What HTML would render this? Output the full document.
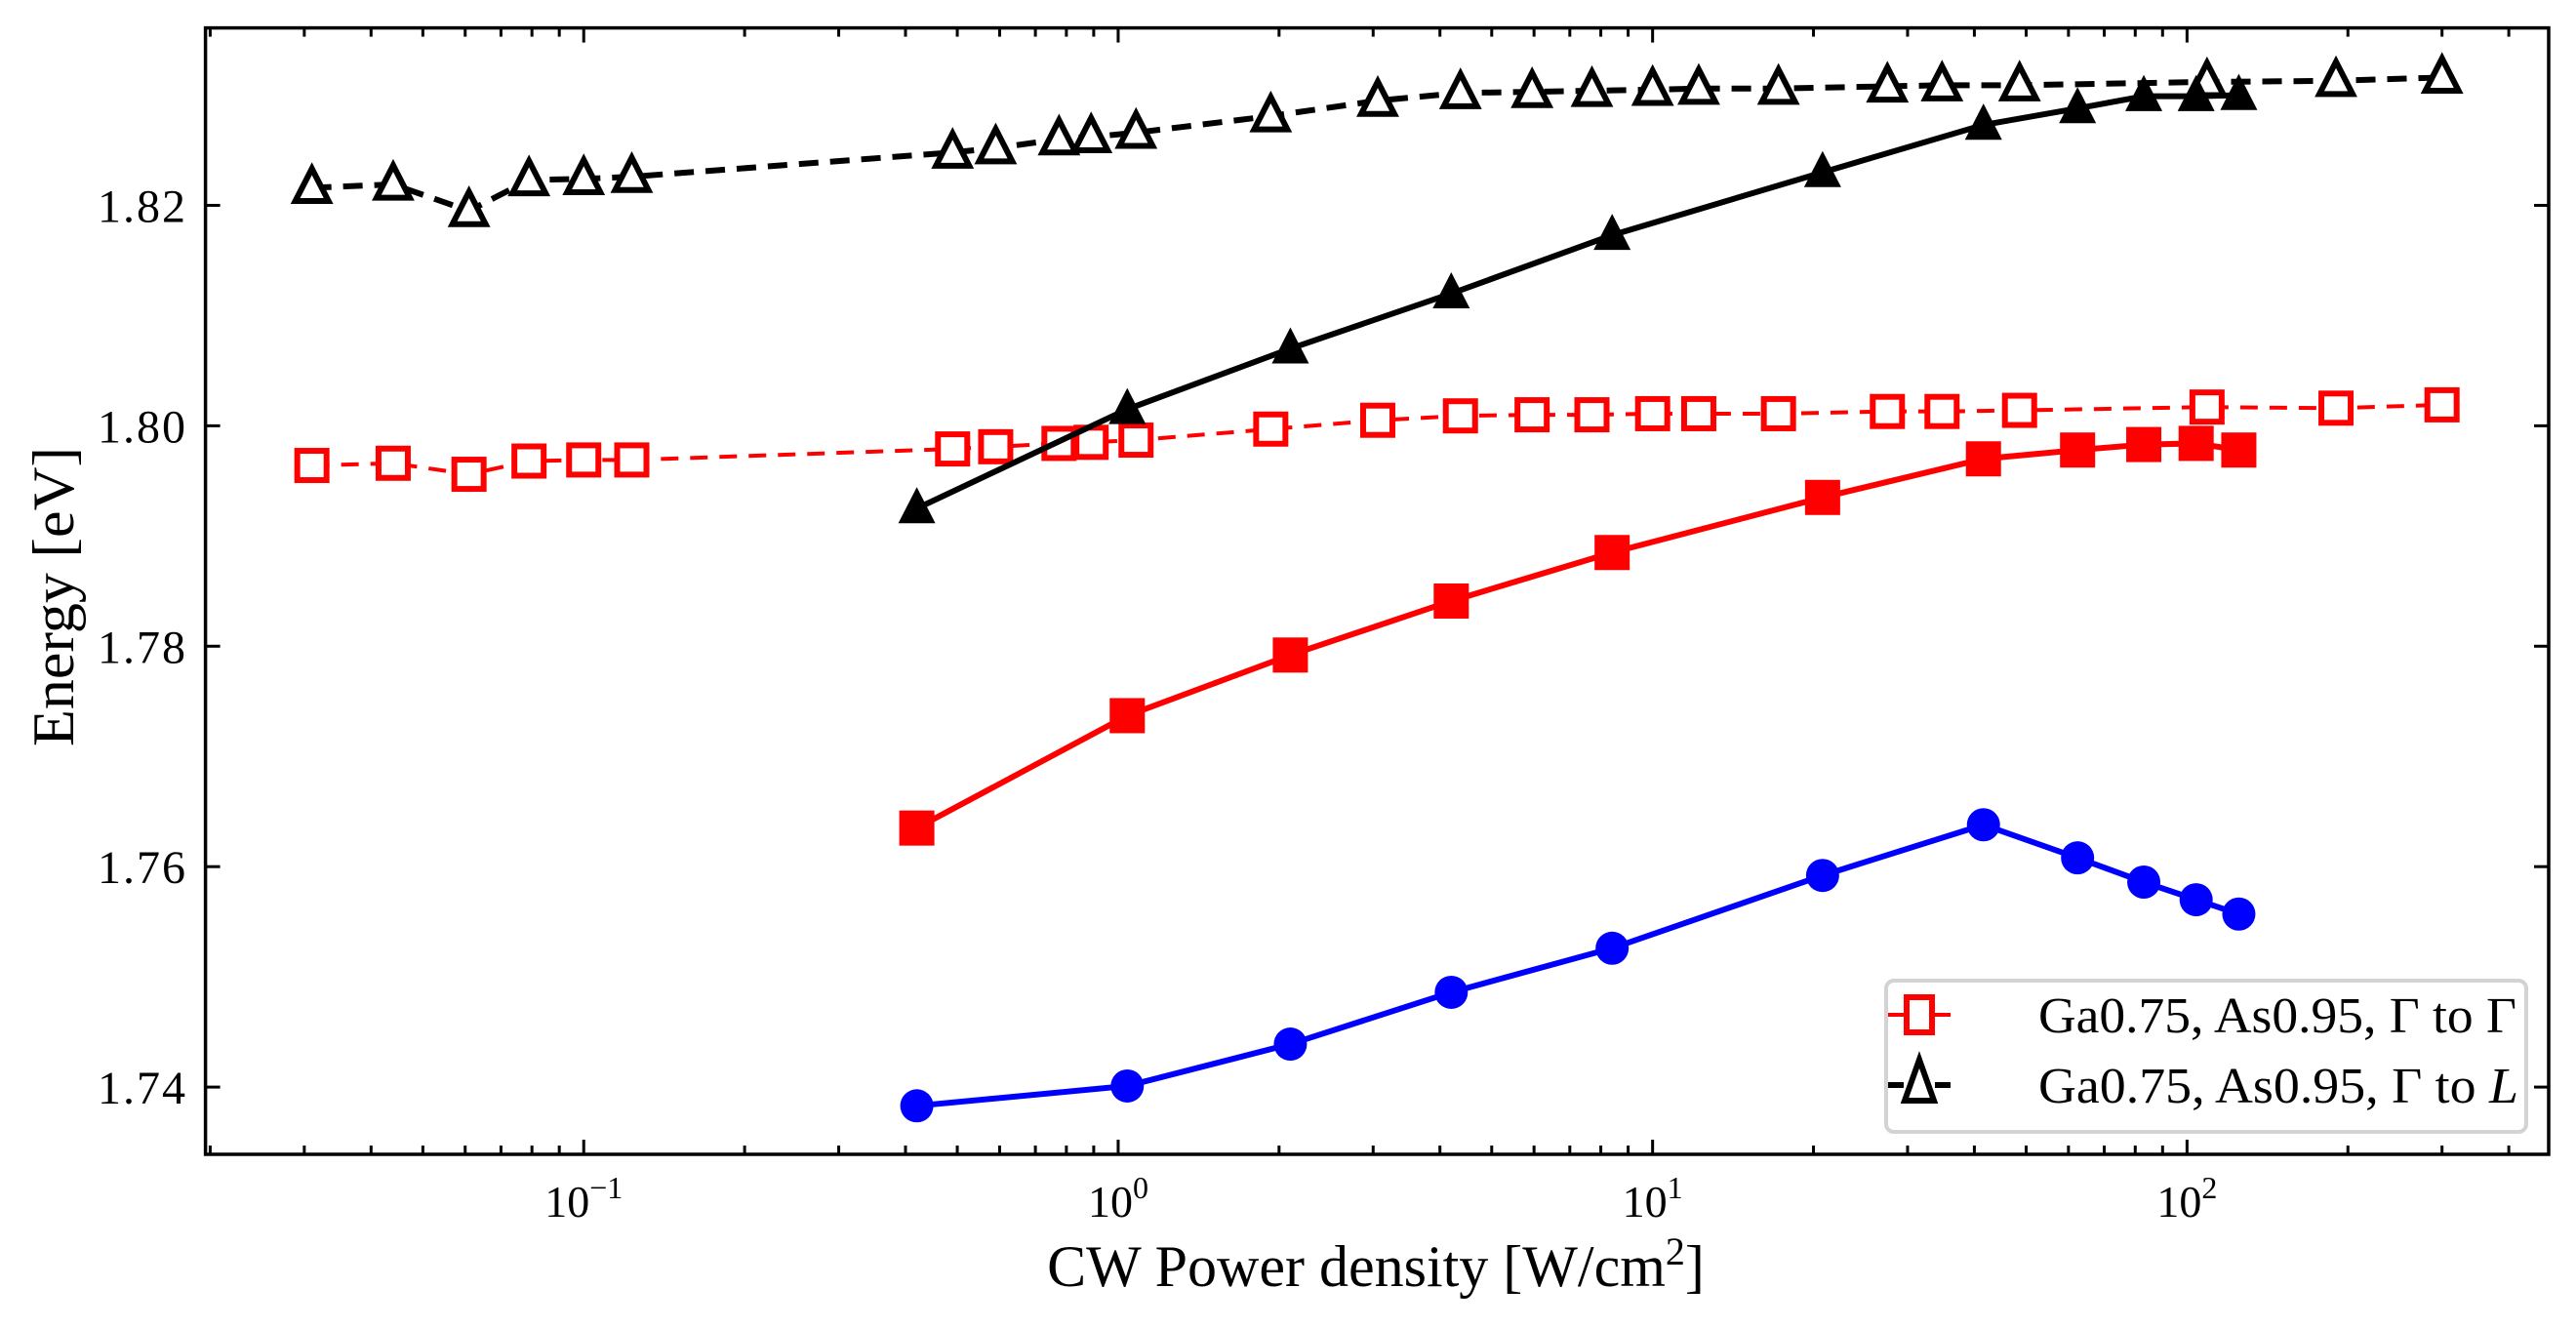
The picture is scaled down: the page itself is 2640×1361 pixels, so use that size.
<!DOCTYPE html>
<html><head><meta charset="utf-8"><style>
body{margin:0;background:#fff;}
svg text{font-family:"Liberation Serif","DejaVu Serif",serif;}
</style></head><body>
<svg id="chart" width="2640" height="1356" xmlns="http://www.w3.org/2000/svg">
<rect width="2640" height="1356" fill="#fff"/>
<g id="plot"></g>
</svg>
<script>
const xsFilled = [0.42,1.04,2.1,4.2,8.4,20.8,41.6,62.4,83,104,125];
const blueCircles = [1.7383,1.7401,1.7439,1.7486,1.7526,1.7592,1.7638,1.7608,1.7586,1.7570,1.7557];
const redFilled = [1.7635,1.7737,1.7792,1.7841,1.7885,1.7935,1.7970,1.7978,1.7983,1.7984,1.7978];
const blackFilled = [1.7925,1.8015,1.8070,1.8120,1.8173,1.8230,1.8273,1.8288,1.8299,1.8299,1.8300];
const xsOpen = [0.031,0.044,0.061,0.079,0.1,0.123,0.49,0.59,0.775,0.89,1.08,1.93,3.06,4.37,5.95,7.7,10,12.2,17.2,27.5,34.8,48.6,109,190,300];
const redOpen = [1.7964,1.7966,1.7956,1.7968,1.7969,1.7969,1.7979,1.7981,1.7984,1.7985,1.7987,1.7997,1.8005,1.8009,1.8010,1.8010,1.8011,1.8011,1.8011,1.8013,1.8013,1.8014,1.8017,1.8016,1.8019];
const blackOpen = [1.8216,1.8219,1.8195,1.8223,1.8224,1.8226,1.8248,1.8252,1.8260,1.8262,1.8266,1.8281,1.8295,1.8302,1.8303,1.8304,1.8305,1.8306,1.8306,1.8308,1.8309,1.8309,1.8312,1.8313,1.8316];
const yTicks = [1.74,1.76,1.78,1.80,1.82];
const yTickLabels = ["1.74","1.76","1.78","1.80","1.82"];
const xTickExps = [-1,0,1,2];

const L=210.6,R=2612,T=28.6,B=1183;
const xMin=Math.log10(0.0196),xMax=Math.log10(475);
const yMin=1.7339,yMax=1.8361;
const X=v=>L+(Math.log10(v)-xMin)/(xMax-xMin)*(R-L);
const Y=v=>B-(v-yMin)/(yMax-yMin)*(B-T);
const NS="http://www.w3.org/2000/svg";
const g=document.getElementById('plot');
function mk(tag,attrs,parent){const e=document.createElementNS(NS,tag);for(const k in attrs)e.setAttribute(k,attrs[k]);(parent||g).appendChild(e);return e;}

const ticks=mk('g',{});


yTicks.forEach((v,i)=>{
  const y=Y(v);
  mk('line',{x1:L,x2:L+15,y1:y,y2:y,stroke:'#000','stroke-width':3},ticks);
  mk('line',{x1:R,x2:R-15,y1:y,y2:y,stroke:'#000','stroke-width':3},ticks);
  const t=mk('text',{x:192,y:y+17,'text-anchor':'end','font-size':48,'letter-spacing':2},ticks);
  t.textContent=yTickLabels[i];
  
  
});
for(let e=-2;e<=2;e++){for(let m=1;m<10;m++){const v=m*Math.pow(10,e);const x=X(v);if(x<L||x>R)continue;const len=m===1?15:9;
  mk('line',{x1:x,x2:x,y1:B,y2:B-len,stroke:'#000','stroke-width':3},ticks);
  mk('line',{x1:x,x2:x,y1:T,y2:T+len,stroke:'#000','stroke-width':3},ticks);}}
xTickExps.forEach(e=>{
  const x=X(Math.pow(10,e));
  const t=mk('text',{x:x,y:B+64,'text-anchor':'middle','font-size':46},ticks);
  
  
  const b=mk('tspan',{},t);b.textContent='10';
  const s=mk('tspan',{dy:-19,'font-size':32},t);s.textContent=e<0?'\u2212'+(-e):String(e);
});

function series(xs,ys,color,dash,lw,marker,filled,name){
  const sg=mk('g',{});
  
  
  const pts=xs.map((x,i)=>X(x)+','+Y(ys[i])).join(' ');
  const pl=mk('polyline',{points:pts,fill:'none',stroke:color,'stroke-width':lw,'stroke-dasharray':dash||'none'},sg);
  
  
  xs.forEach((x,i)=>{
    const cx=X(x),cy=Y(ys[i]);let m;
    if(marker==='circle'){m=mk('circle',{cx:cx,cy:cy,r:17,fill:color},sg);}
    else if(marker==='square'){const s=filled?36:30;m=mk('rect',{x:cx-s/2,y:cy-s/2,width:s,height:s,fill:filled?color:'#fff',stroke:color,'stroke-width':filled?0:6},sg);}
    else{const h=filled?19:17;m=mk('polygon',{points:`${cx},${cy-h*1.15} ${cx-h},${cy+h*0.8} ${cx+h},${cy+h*0.8}`,fill:filled?color:'#fff',stroke:color,'stroke-width':filled?0:6,'stroke-linejoin':'miter'},sg);}
    
    
  });
}
series(xsOpen,redOpen,'#ff0000','18 12',4,'square',false,'red-open-squares-series');
series(xsOpen,blackOpen,'#000','20 12',6,'triangle',false,'black-open-triangles-series');
series(xsFilled,blackFilled,'#000',null,6,'triangle',true,'black-filled-triangles-series');
series(xsFilled,redFilled,'#ff0000',null,6,'square',true,'red-filled-squares-series');
series(xsFilled,blueCircles,'#0000ff',null,6,'circle',true,'blue-circles-series');

const fr=mk('rect',{x:L,y:T,width:R-L,height:B-T,fill:'none',stroke:'#000','stroke-width':3.5});



const yl=mk('text',{x:0,y:0,'text-anchor':'start','font-size':60,textLength:307,lengthAdjust:'spacingAndGlyphs',transform:`translate(75,765) rotate(-90)`});
yl.textContent='Energy [eV]';


const xl=mk('text',{x:1410,y:1318,'text-anchor':'middle','font-size':60});


const a=mk('tspan',{},xl);a.textContent='CW Power density [W/cm';
const b=mk('tspan',{dy:-22,'font-size':40},xl);b.textContent='2';
const c=mk('tspan',{dy:22},xl);c.textContent=']';

const lg=mk('g',{});


mk('rect',{x:1933,y:1005,width:656,height:155,rx:8,fill:'#fff',stroke:'#d3d3d3','stroke-width':4},lg);
const rows=[{c:'#ff0000',m:'square',t:'Ga0.75, As0.95, \u0393 to \u0393',y:1040,lw:4},{c:'#000',m:'triangle',t:'Ga0.75, As0.95, \u0393 to ',y:1112,lw:6}];
rows.forEach((r,i)=>{
  const e=mk('g',{},lg);
  
  
  mk('line',{x1:1935,x2:1999,y1:r.y,y2:r.y,stroke:r.c,'stroke-width':r.lw,'stroke-dasharray':'16 32'},e);
  mk('line',{x1:1983,x2:1999,y1:r.y,y2:r.y,stroke:r.c,'stroke-width':r.lw},e);
  const cx=1967,cy=r.y;
  if(r.m==='square')mk('rect',{x:cx-13,y:cy-18,width:26,height:36,fill:'#fff',stroke:r.c,'stroke-width':6},e);
  else mk('polygon',{points:`${cx},${cy-26} ${cx-15},${cy+16} ${cx+15},${cy+16}`,fill:'#fff',stroke:r.c,'stroke-width':6},e);
  const t=mk('text',{x:2089,y:r.y+18,'font-size':52,textLength:i===0?490:492,lengthAdjust:'spacingAndGlyphs'},e);
  t.textContent=r.t;
  if(i===1){const it=mk('tspan',{'font-style':'italic'},t);it.textContent='L';}
});
</script>
</body></html>
